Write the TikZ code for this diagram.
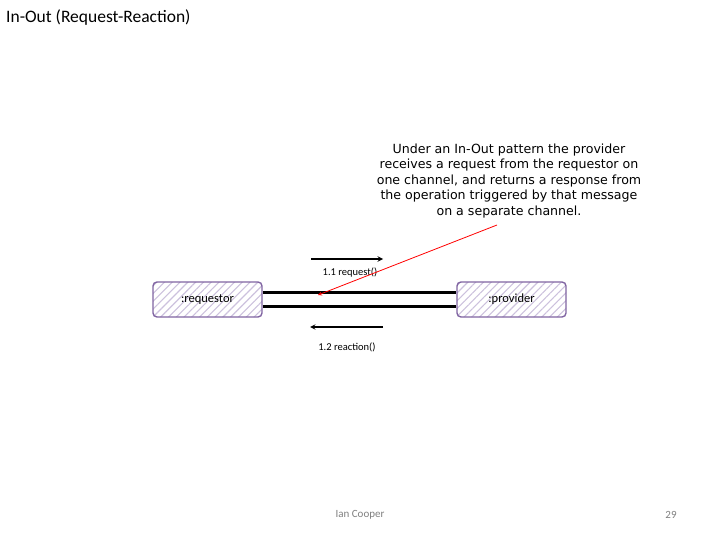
\documentclass[tikz,border=0pt]{standalone}
\usepackage{fontspec}
\setmainfont{Carlito}
\newfontfamily\notefont{DejaVu Sans}
\usetikzlibrary{positioning, calc, patterns.meta}
\definecolor{roleedge}{HTML}{8064A2}
\definecolor{rolehatch}{HTML}{CCC1DD}
\definecolor{footgray}{HTML}{7F7F7F}

\begin{document}
\begin{tikzpicture}[x=1bp, y=-1bp]
    \tikzset{RoleStyle/.style = {draw=roleedge, line width=1.4bp, rounded corners=4bp, minimum width=109bp, minimum height=35bp, inner sep=0pt, pattern={Lines[angle=45, distance=5.5bp, line width=1.1bp]}, pattern color=rolehatch, font=\fontsize{12.5bp}{14bp}\selectfont}}
    \tikzset{ChannelStyle/.style = {line width=2.6bp, color=black}}
    \tikzset{MsgStyle/.style = {line width=1.4bp, -stealth}}
    \tikzset{MsgLabel/.style = {font=\fontsize{10.5bp}{12bp}\selectfont}}
    \useasboundingbox (0,0) rectangle (720,540);
    \node[anchor=base west, inner sep=0pt, font=\fontsize{17.5bp}{20bp}\selectfont] (title) at (6, 23) {In-Out (Request-Reaction)};
    \node[RoleStyle] (req) at (207.5, 299.5) {:requestor};
    \node[RoleStyle] (prov) at (511.5, 299.5) {:provider};
    \draw[ChannelStyle] ($(req.east)+(0,-7)$) -- ($(prov.west)+(0,-7)$);
    \draw[ChannelStyle] ($(req.east)+(0,7)$) -- ($(prov.west)+(0,7)$);
    \coordinate (reqtail) at (311, 259);
    \coordinate (reqhead) at (383, 259);
    \draw[MsgStyle] (reqtail) -- (reqhead);
    \node[MsgLabel] (reqlbl) at (350, 273) {1.1 request()};
    \coordinate (reactail) at (383, 327);
    \coordinate (reachead) at (310, 327);
    \draw[MsgStyle] (reactail) -- (reachead);
    \node[MsgLabel] (reaclbl) at (347, 347) {1.2 reaction()};
    \node[align=center, font=\notefont\fontsize{12.6bp}{15.5bp}\selectfont] (note) at (509, 181) {Under an In-Out pattern the provider\\receives a request from the requestor on\\one channel, and returns a response from\\the operation triggered by that message\\on a separate channel.};
    \coordinate (notefoot) at (497, 225);
    \coordinate (chanpoint) at (318, 295);
    \draw[red, line width=0.8bp, -stealth] (notefoot) -- (chanpoint);
    \node[text=footgray, font=\fontsize{11bp}{13bp}\selectfont] (author) at (360, 515) {Ian Cooper};
    \node[text=footgray, font=\fontsize{11bp}{13bp}\selectfont] (page) at (671, 515) {29};
\end{tikzpicture}
\end{document}
